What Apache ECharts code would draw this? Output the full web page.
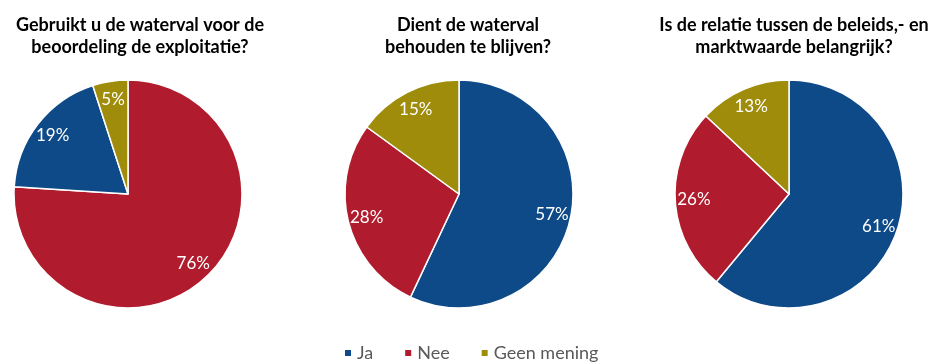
<!DOCTYPE html>
<html>
<head>
<meta charset="utf-8">
<script src="https://cdn.jsdelivr.net/npm/echarts@6/dist/echarts.min.js"></script>
<style>
  html, body { margin: 0; padding: 0; background: #fff; }
  #chart { width: 929px; height: 362px; }
</style>
</head>
<body>
<div id="chart"></div>
<script>
// Survey answers per question (percent)
const answers = ['Ja', 'Nee', 'Geen mening'];
const questions = [
  'Gebruikt u de waterval voor de\nbeoordeling de exploitatie?',
  'Dient de waterval\nbehouden te blijven?',
  'Is de relatie tussen de beleids,- en\nmarktwaarde belangrijk?'
];
// slices listed clockwise from the top
const q1Order = ['Nee', 'Ja', 'Geen mening'];
const q1Values = [76, 19, 5];
const q2Order = ['Ja', 'Nee', 'Geen mening'];
const q2Values = [57, 28, 15];
const q3Order = ['Ja', 'Nee', 'Geen mening'];
const q3Values = [61, 26, 13];

const colors = { 'Ja': '#0D4A87', 'Nee': '#B01C2E', 'Geen mening': '#9E8C0A' };

const pies = [
  { order: q1Order, values: q1Values, cx: 128, titleX: 135 },
  { order: q2Order, values: q2Values, cx: 459, titleX: 463 },
  { order: q3Order, values: q3Values, cx: 789, titleX: 789 }
];
const cy = 194;
const R = 114;
const fontFam = 'Lato, "Open Sans", sans-serif';

const series = [];
pies.forEach(function (p) {
  const data = p.order.map(function (name, i) {
    return { name: name, value: p.values[i], itemStyle: { color: colors[name] } };
  });
  // visible slices
  series.push({
    type: 'pie',
    center: [p.cx, cy],
    radius: [0, R],
    startAngle: 90,
    clockwise: true,
    animation: false,
    silent: true,
    itemStyle: { borderColor: '#ffffff', borderWidth: 1.5 },
    label: { show: false },
    labelLine: { show: false },
    data: data
  });
  // label carrier: transparent ring whose mid-radius sits near the rim
  series.push({
    type: 'pie',
    center: [p.cx, cy],
    radius: [0, R * 1.62],
    startAngle: 90,
    clockwise: true,
    animation: false,
    silent: true,
    itemStyle: { color: 'rgba(0,0,0,0)', borderWidth: 0 },
    label: {
      show: true,
      position: 'inside',
      color: '#ffffff',
      fontFamily: fontFam,
      fontSize: 17,
      formatter: '{c}%'
    },
    labelLine: { show: false },
    data: p.order.map(function (name, i) { return { name: name, value: p.values[i] }; })
  });
});

const chart = echarts.init(document.getElementById('chart'), null, { renderer: 'canvas' });
chart.setOption({
  backgroundColor: '#ffffff',
  title: pies.map(function (p, i) {
    return {
      text: questions[i],
      left: p.titleX,
      top: 9,
      textAlign: 'center',
      textStyle: {
        fontFamily: fontFam,
        fontWeight: 'bold',
        fontSize: 18,
        lineHeight: 22,
        color: '#000000'
      }
    };
  }),
  legend: {
    data: answers.map(function (a) { return { name: a, itemStyle: { color: colors[a] } }; }),
    bottom: -5,
    left: 338,
    icon: 'rect',
    itemWidth: 8,
    itemHeight: 8,
    itemGap: 30,
    textStyle: { fontFamily: fontFam, fontSize: 18, color: '#595959' }
  },
  series: series
});
</script>
</body>
</html>
